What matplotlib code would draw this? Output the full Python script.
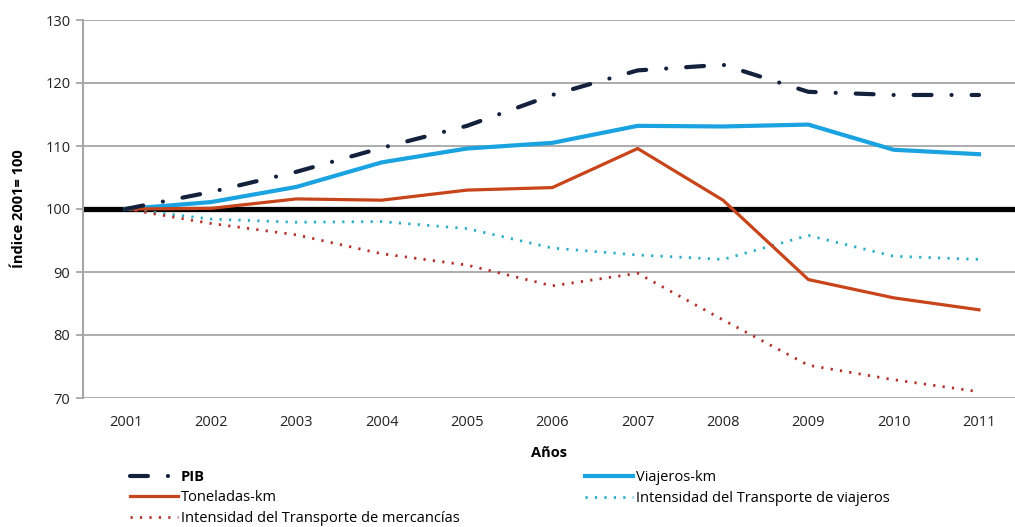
import matplotlib
matplotlib.use("Agg")
import matplotlib.pyplot as plt

plt.rcParams['font.family'] = ['Open Sans', 'DejaVu Sans']

years = ['2001', '2002', '2003', '2004', '2005', '2006', '2007', '2008', '2009', '2010', '2011']
pib = [100, 102.7, 105.9, 109.7, 113.2, 118.1, 122.0, 122.9, 118.6, 118.1, 118.1]
viajeros_km = [100, 101.1, 103.5, 107.4, 109.6, 110.5, 113.2, 113.1, 113.4, 109.4, 108.7]
toneladas_km = [100, 100.1, 101.6, 101.4, 103.0, 103.4, 109.6, 101.4, 88.8, 85.9, 84.0]
int_viajeros = [100, 98.4, 97.9, 98.0, 96.9, 93.8, 92.7, 92.0, 95.8, 92.5, 92.0]
int_mercancias = [100, 97.7, 95.9, 92.9, 91.1, 87.8, 89.8, 82.4, 75.2, 72.9, 71.0]
base_index = 100
yticks = [70, 80, 90, 100, 110, 120, 130]

fig = plt.figure(figsize=(10.15, 5.27), dpi=100)
ax = fig.add_axes([83/1015, 1-398/527, 1-83/1015, (398-20)/527])

x = list(range(len(years)))
grid_c = '#a6a6a6'
for t in yticks:
    ax.axhline(t, color=grid_c, lw=1.3, zorder=1)
ax.axhline(base_index, color='black', lw=3.8, zorder=2)

l_pib, = ax.plot(x, pib, color='#14213d', lw=3.0, dashes=(4.3, 4.8, 0.01, 4.8),
                 dash_capstyle='round', zorder=5, label='PIB')
l_via, = ax.plot(x, viajeros_km, color='#1aa3e0', lw=3.0, zorder=4, label='Viajeros-km')
l_ton, = ax.plot(x, toneladas_km, color='#c8441b', lw=2.3, zorder=4, label='Toneladas-km')
l_iv, = ax.plot(x, int_viajeros, color='#29aec6', lw=2.0, dashes=(0.8, 2.6), zorder=3,
                label='Intensidad del Transporte de viajeros')
l_im, = ax.plot(x, int_mercancias, color='#b5302a', lw=2.0, dashes=(0.8, 2.6), zorder=3,
                label='Intensidad del Transporte de mercancías')

ax.set_xlim(-0.5, (1015-126)/85.3)
ax.set_ylim(70, 130)
ax.set_yticks(yticks)
ax.set_xticks(x)
ax.set_xticklabels(years)
for s in ['top', 'right', 'bottom']:
    ax.spines[s].set_visible(False)
ax.spines['left'].set_color(grid_c)
ax.spines['left'].set_linewidth(1.5)
ax.tick_params(axis='y', length=5, color=grid_c, width=1.3, labelsize=10.5, pad=4, labelcolor='#222222')
ax.tick_params(axis='x', length=0, labelsize=10.5, pad=12, labelcolor='#222222')
ax.set_ylabel('Índice 2001= 100', fontsize=10.5, fontweight='bold', labelpad=14)
ax.set_xlabel('Años', fontsize=10.5, fontweight='bold', labelpad=12)

handles = [l_pib, l_ton, l_im, l_via, l_iv]
leg = fig.legend(handles, [h.get_label() for h in handles], ncol=2, loc='upper left',
                 bbox_to_anchor=(130/1015, 1-470/527), frameon=False, fontsize=10.5,
                 handlelength=3.3, handletextpad=0.2, labelspacing=0.42, columnspacing=8.6,
                 borderpad=0, borderaxespad=0)
for txt in leg.get_texts():
    if txt.get_text() == 'PIB':
        txt.set_fontweight('bold')

fig.savefig('out.png', dpi=100)
